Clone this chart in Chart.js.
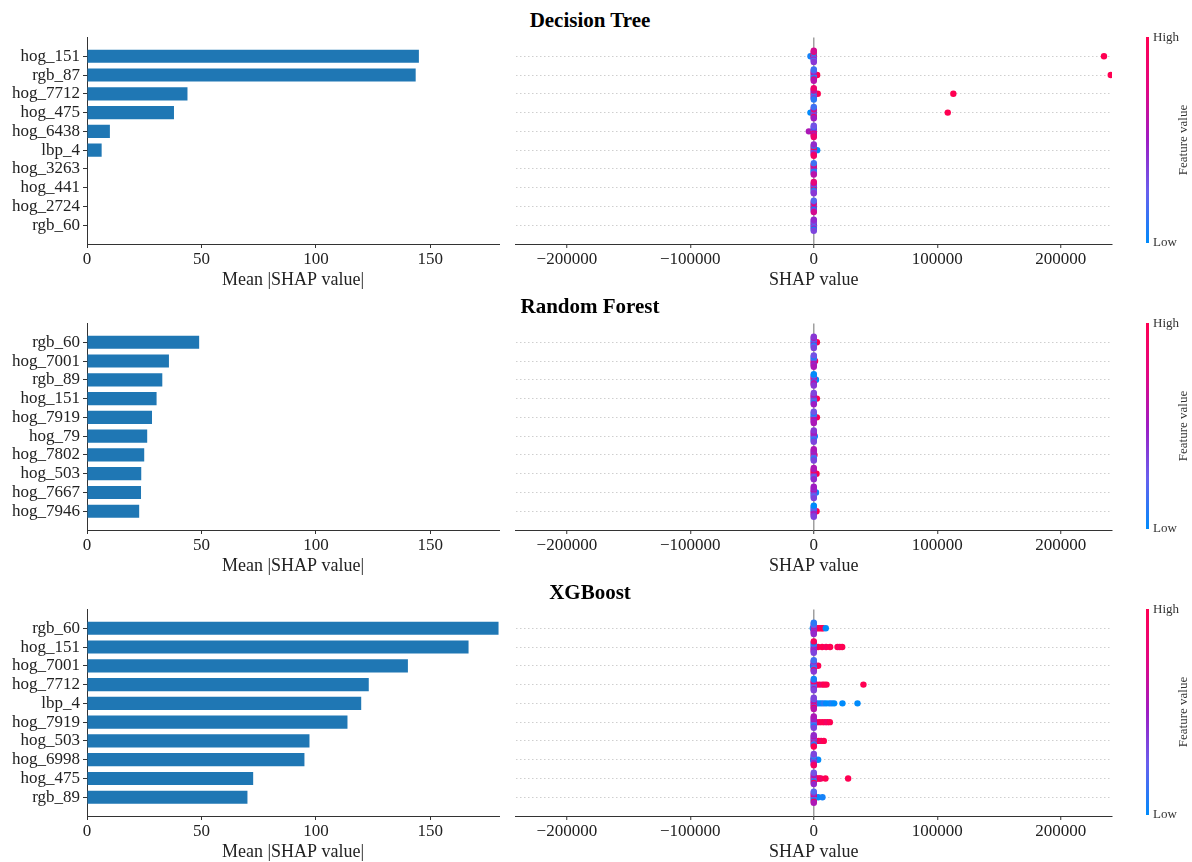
<!DOCTYPE html>
<html>
<head>
<meta charset="utf-8">
<script src="https://cdn.jsdelivr.net/npm/chart.js@4.4.1/dist/chart.umd.min.js"></script>
<style>
  html, body { margin: 0; padding: 0; background: #ffffff; }
  #fig { position: relative; width: 1192px; height: 862px; overflow: hidden; background: #ffffff; }
  #fig canvas { position: absolute; }
  .panel-title {
    position: absolute; left: 0; width: 1180px; text-align: center;
    font: bold 21px "Liberation Serif", "Times New Roman", serif; color: #000;
    line-height: 24px; height: 24px;
  }
</style>
</head>
<body>
<div id="fig"></div>
<script>
// ---------------- Decision Tree ----------------
const dtFeatures = ['hog_151', 'rgb_87', 'hog_7712', 'hog_475', 'hog_6438', 'lbp_4', 'hog_3263', 'hog_441', 'hog_2724', 'rgb_60'];
const dtMeanAbs = [145.0, 143.6, 43.9, 38.0, 10.0, 6.4, 0, 0, 0, 0];
// per-feature samples: [SHAP value, normalised feature value]
const dtSamples = [
  [[-2700, 0.05], [235000, 1.0], [0, 0.95], [0, 1.0], [0, 0.6], [0, 0.9], [0, 0.3], [0, 0.1], [0, 0.5], [0, 0.85], [0, 0.2], [0, 0.7], [0, 0.4]],
  [[2700, 1.0], [240500, 1.0], [0, 0.4], [0, 0.6], [0, 0.1], [0, 0.9], [0, 0.2], [0, 0.5], [0, 0.05], [0, 0.3], [0, 0.8], [0, 0.15], [0, 0.6]],
  [[3200, 1.0], [113000, 1.0], [0, 0.9], [0, 0.5], [0, 0.95], [0, 0.3], [0, 0.1], [0, 0.7], [0, 0.2], [0, 0.6], [0, 0.4], [0, 0.85], [0, 0.1]],
  [[-2700, 0.0], [108500, 1.0], [0, 0.2], [0, 0.5], [0, 0.9], [0, 0.1], [0, 0.3], [0, 0.8], [0, 0.4], [0, 0.6], [0, 0.95], [0, 0.15], [0, 0.5]],
  [[-4000, 0.55], [0, 0.9], [0, 0.4], [0, 0.95], [0, 0.2], [0, 0.8], [0, 0.5], [0, 0.6], [0, 0.1], [0, 0.7], [0, 0.3], [0, 0.85]],
  [[2700, 0.0], [0, 0.5], [0, 0.2], [0, 0.6], [0, 0.85], [0, 0.3], [0, 0.95], [0, 0.4], [0, 0.1], [0, 0.7], [0, 0.45], [0, 0.9]],
  [[0, 0.9], [0, 0.1], [0, 0.0], [0, 0.95], [0, 0.2], [0, 0.5], [0, 0.05], [0, 0.85], [0, 0.3], [0, 0.15], [0, 0.6]],
  [[0, 0.1], [0, 0.9], [0, 0.0], [0, 0.5], [0, 0.95], [0, 0.2], [0, 0.05], [0, 0.6], [0, 0.3], [0, 0.8], [0, 0.4]],
  [[0, 0.9], [0, 0.3], [0, 0.95], [0, 0.1], [0, 0.5], [0, 0.85], [0, 0.0], [0, 0.6], [0, 0.4], [0, 0.2], [0, 0.7]],
  [[0, 0.1], [0, 0.5], [0, 0.0], [0, 0.6], [0, 0.3], [0, 0.2], [0, 0.55], [0, 0.4], [0, 0.05], [0, 0.45], [0, 0.35]]
];

// ---------------- Random Forest ----------------
const rfFeatures = ['rgb_60', 'hog_7001', 'rgb_89', 'hog_151', 'hog_7919', 'hog_79', 'hog_7802', 'hog_503', 'hog_7667', 'hog_7946'];
const rfMeanAbs = [49.0, 35.8, 32.9, 30.4, 28.4, 26.3, 25.0, 23.7, 23.6, 22.8];
const rfSamples = [
  [[2500, 1.0], [0, 0.5], [0, 0.0], [0, 0.6], [0, 0.1], [0, 0.45], [0, 0.3], [0, 0.05], [0, 0.55], [0, 0.2], [0, 0.4], [0, 0.35]],
  [[1000, 0.95], [0, 0.9], [0, 0.4], [0, 0.95], [0, 0.1], [0, 0.5], [0, 0.2], [0, 0.6], [0, 0.0], [0, 0.45], [0, 0.3], [0, 0.55]],
  [[1800, 0.0], [0, 0.5], [0, 0.9], [0, 0.3], [0, 0.95], [0, 0.1], [0, 0.45], [0, 0.6], [0, 0.2], [0, 0.55], [0, 0.0], [0, 0.4]],
  [[2500, 1.0], [0, 0.4], [0, 0.5], [0, 0.2], [0, 0.6], [0, 0.1], [0, 0.45], [0, 0.3], [0, 0.55], [0, 0.05], [0, 0.35], [0, 0.5]],
  [[2500, 1.0], [1200, 0.9], [0, 0.95], [0, 0.0], [0, 0.9], [0, 0.1], [0, 0.5], [0, 0.2], [0, 0.6], [0, 0.05], [0, 0.45], [0, 0.3], [0, 0.55]],
  [[800, 0.0], [0, 0.0], [0, 0.5], [0, 0.1], [0, 0.6], [0, 0.3], [0, 0.45], [0, 0.2], [0, 0.55], [0, 0.05], [0, 0.4], [0, 0.35]],
  [[500, 1.0], [0, 1.0], [0, 0.4], [0, 0.9], [0, 0.5], [0, 0.3], [0, 0.6], [0, 0.2], [0, 0.45], [0, 0.1], [0, 0.55], [0, 0.35]],
  [[2200, 1.0], [0, 0.9], [0, 0.95], [0, 0.5], [0, 0.85], [0, 0.4], [0, 1.0], [0, 0.3], [0, 0.6], [0, 0.2], [0, 0.55], [0, 0.45]],
  [[1800, 0.05], [0, 0.1], [0, 0.5], [0, 0.0], [0, 0.6], [0, 0.4], [0, 0.55], [0, 0.3], [0, 0.45], [0, 0.2], [0, 0.5], [0, 0.35]],
  [[2200, 1.0], [0, 0.5], [0, 0.05], [0, 0.6], [0, 0.1], [0, 0.45], [0, 0.3], [0, 0.55], [0, 0.2], [0, 0.4], [0, 0.0], [0, 0.35]]
];

// ---------------- XGBoost ----------------
const xgbFeatures = ['rgb_60', 'hog_151', 'hog_7001', 'hog_7712', 'lbp_4', 'hog_7919', 'hog_503', 'hog_6998', 'hog_475', 'rgb_89'];
const xgbMeanAbs = [179.8, 166.7, 140.2, 123.1, 119.8, 113.8, 97.2, 95.0, 72.6, 70.1];
const xgbSamples = [
  [[-800, 0.0], [2000, 1.0], [3500, 0.95], [5000, 1.0], [6500, 0.9], [7600, 1.0], [9700, 0.0],
   [0, 0.05], [0, 0.1], [0, 0.0], [0, 0.5], [0, 0.6], [0, 0.3], [0, 0.4], [0, 0.2], [0, 0.55], [0, 0.1], [0, 0.45]],
  [[3500, 1.0], [6800, 1.0], [10000, 0.95], [13200, 1.0], [19200, 1.0], [21000, 0.9], [23000, 1.0],
   [0, 0.3], [0, 0.1], [0, 0.5], [0, 0.05], [0, 0.6], [0, 0.2], [0, 0.4], [0, 0.0], [0, 0.55], [0, 0.95], [0, 0.35]],
  [[-600, 0.0], [3500, 1.0],
   [0, 0.0], [0, 0.5], [0, 0.1], [0, 0.6], [0, 0.05], [0, 0.3], [0, 0.2], [0, 0.45], [0, 0.9], [0, 0.15], [0, 0.4]],
  [[2200, 1.0], [4500, 1.0], [6800, 0.9], [8500, 1.0], [10300, 1.0], [40200, 1.0],
   [0, 0.1], [0, 0.5], [0, 0.0], [0, 0.6], [0, 0.3], [0, 0.95], [0, 0.2], [0, 0.4], [0, 0.55], [0, 0.05], [0, 0.35]],
  [[2000, 0.0], [4000, 0.05], [6000, 0.0], [8000, 0.1], [10000, 0.0], [12500, 0.0], [14500, 0.05], [16500, 0.0], [23200, 0.0], [35400, 0.0],
   [0, 0.5], [0, 0.6], [0, 0.3], [0, 0.45], [0, 0.9], [0, 0.55], [0, 0.4], [0, 0.2], [0, 0.95], [0, 0.35], [0, 0.6]],
  [[2200, 1.0], [4500, 0.95], [6800, 1.0], [9000, 1.0], [11000, 0.9], [13000, 1.0],
   [0, 0.05], [0, 0.4], [0, 0.1], [0, 0.5], [0, 0.3], [0, 0.6], [0, 0.2], [0, 0.45], [0, 0.0], [0, 0.55], [0, 0.35]],
  [[2000, 1.0], [4000, 1.0], [6000, 0.9], [8100, 1.0],
   [0, 0.95], [0, 0.4], [0, 0.1], [0, 0.5], [0, 0.9], [0, 0.3], [0, 0.2], [0, 0.6], [0, 0.05], [0, 0.45], [0, 1.0]],
  [[-500, 0.0], [3500, 0.0],
   [0, 0.1], [0, 0.5], [0, 0.0], [0, 0.6], [0, 0.3], [0, 0.05], [0, 0.45], [0, 0.2], [0, 0.55], [0, 0.35], [0, 0.9]],
  [[1500, 1.0], [3000, 0.95], [4500, 1.0], [5700, 0.9], [9450, 1.0], [27800, 1.0],
   [0, 0.9], [0, 0.5], [0, 0.95], [0, 0.4], [0, 0.2], [0, 0.6], [0, 0.1], [0, 0.55], [0, 1.0], [0, 0.3], [0, 0.45]],
  [[3500, 0.0], [7000, 0.05],
   [0, 0.05], [0, 0.5], [0, 0.1], [0, 0.9], [0, 0.3], [0, 0.6], [0, 0.0], [0, 0.4], [0, 0.95], [0, 0.2], [0, 0.55]]
];

// ---------------- shared axis settings ----------------
const meanAbsRange = [0, 180];
const meanAbsTickValues = [0, 50, 100, 150];
const shapRange = [-241500, 241500];
const shapTickValues = [-200000, -100000, 0, 100000, 200000];

const SERIF = '"Liberation Serif", "Times New Roman", serif';
const TEXT = '#222222';
const SPINE = '#333333';

// blue (low) -> purple -> red (high)
const cmapStops = [
  [0.00, [0, 139, 251]],
  [0.25, [105, 95, 238]],
  [0.50, [158, 28, 196]],
  [0.75, [226, 6, 130]],
  [1.00, [255, 0, 82]]
];
function cmap(t) {
  t = Math.max(0, Math.min(1, t));
  for (let i = 1; i < cmapStops.length; i++) {
    const [t1, c1] = cmapStops[i];
    const [t0, c0] = cmapStops[i - 1];
    if (t <= t1) {
      const f = (t - t0) / (t1 - t0);
      const c = c0.map((v, k) => Math.round(v + (c1[k] - v) * f));
      return `rgb(${c[0]},${c[1]},${c[2]})`;
    }
  }
  return 'rgb(255,0,82)';
}

// vertical spread of a beeswarm row: samples falling in the same x-bin are stacked
function swarmOffsets(samples) {
  const xs = samples.map(s => s[0]);
  const lo = Math.min(...xs), hi = Math.max(...xs);
  const nbins = 100;
  const quant = xs.map(x => Math.round(nbins * (x - lo) / (hi - lo + 1e-8)));
  const order = xs.map((_, i) => i).sort((a, b) => (quant[a] - quant[b]) || (a - b));
  const ys = new Array(xs.length).fill(0);
  let layer = 0, last = -1;
  for (const i of order) {
    if (quant[i] !== last) layer = 0;
    ys[i] = Math.ceil(layer / 2) * ((layer % 2) * 2 - 1);
    layer++;
    last = quant[i];
  }
  const m = Math.max(...ys.map(y => y + 1));
  return ys.map(y => y * 0.9 * (0.4 / m));
}

const panels = [
  { title: 'Decision Tree', names: dtFeatures, mean: dtMeanAbs, samples: dtSamples, axisTop: 37.5 },
  { title: 'Random Forest', names: rfFeatures, mean: rfMeanAbs, samples: rfSamples, axisTop: 323.5 },
  { title: 'XGBoost', names: xgbFeatures, mean: xgbMeanAbs, samples: xgbSamples, axisTop: 609.5 }
];

const PLOT_H = 206.5;   // height of each axes box
const XAXIS_H = 52;     // room for tick labels + axis title
const fig = document.getElementById('fig');

function makeCanvas(left, top, w, h) {
  const c = document.createElement('canvas');
  c.width = w; c.height = h;
  c.style.left = left + 'px'; c.style.top = top + 'px';
  c.style.width = w + 'px'; c.style.height = h + 'px';
  fig.appendChild(c);
  return c;
}

const rowTicks = n => Array.from({ length: n }, (_, i) => ({ value: i }));
const fmtShap = v => (v < 0 ? '\u2212' : '') + Math.abs(v);

const colorbarPlugin = {
  id: 'featureColorbar',
  afterDraw(chart) {
    const { ctx, chartArea } = chart;
    const top = chartArea.top - 0.5, bottom = chartArea.bottom - 1;
    const x = 641;
    const g = ctx.createLinearGradient(0, bottom, 0, top);
    cmapStops.forEach(([t]) => g.addColorStop(t, cmap(t)));
    ctx.save();
    ctx.fillStyle = g;
    ctx.fillRect(x, top, 3, bottom - top);
    ctx.fillStyle = '#333333';
    ctx.font = '13px ' + SERIF;
    ctx.textAlign = 'left';
    ctx.textBaseline = 'middle';
    ctx.fillText('High', x + 7, top + 1);
    ctx.fillText('Low', x + 7, bottom);
    ctx.translate(679, (top + bottom) / 2);
    ctx.rotate(-Math.PI / 2);
    ctx.textAlign = 'center';
    ctx.fillText('Feature value', 0, 0);
    ctx.restore();
  }
};

panels.forEach(p => {
  const canvasTop = p.axisTop - 9.5;
  const canvasH = Math.round(9.5 + PLOT_H + XAXIS_H);

  // panel title
  const t = document.createElement('div');
  t.className = 'panel-title';
  t.textContent = p.title;
  t.style.top = (p.axisTop - 29.5) + 'px';
  fig.appendChild(t);

  // ---- mean |SHAP| bar chart ----
  const barCanvas = makeCanvas(0, canvasTop, 505, canvasH);
  new Chart(barCanvas, {
    type: 'bar',
    data: {
      datasets: [{
        data: p.mean.map((v, i) => ({ x: v, y: i })),
        backgroundColor: '#1f77b4',
        borderWidth: 0,
        barPercentage: 0.7,
        categoryPercentage: 1.0
      }]
    },
    options: {
      indexAxis: 'y',
      responsive: false,
      animation: false,
      devicePixelRatio: 1,
      layout: { padding: { top: 9.5, right: 6, bottom: 0, left: 0 } },
      plugins: { legend: { display: false }, tooltip: { enabled: false } },
      scales: {
        x: {
          type: 'linear',
          min: meanAbsRange[0], max: meanAbsRange[1],
          afterBuildTicks(s) { s.ticks = meanAbsTickValues.map(v => ({ value: v })); },
          afterFit(s) { s.height = XAXIS_H; },
          ticks: {
            autoSkip: false,
            font: { family: SERIF, size: 17 }, color: TEXT, padding: 1, maxRotation: 0
          },
          grid: { drawOnChartArea: false, tickLength: 4, tickColor: SPINE, tickWidth: 1 },
          border: { display: true, color: SPINE, width: 1 },
          title: {
            display: true, text: 'Mean |SHAP value|',
            font: { family: SERIF, size: 18 }, color: TEXT, padding: { top: 0, bottom: 5 }
          }
        },
        y: {
          type: 'linear',
          offset: false,
          min: -1, max: p.names.length,
          reverse: true,
          afterBuildTicks(s) { s.ticks = rowTicks(p.names.length); },
          afterFit(s) { s.width = 87; s.paddingTop = 0; s.paddingBottom = 0; },
          ticks: {
            autoSkip: false,
            callback: v => p.names[v],
            font: { family: SERIF, size: 17 }, color: TEXT, padding: 3
          },
          grid: { offset: false, drawOnChartArea: false, tickLength: 4, tickColor: SPINE, tickWidth: 1 },
          border: { display: true, color: SPINE, width: 1 }
        }
      }
    }
  });

  // ---- SHAP beeswarm ----
  const pts = [];
  p.samples.forEach((row, i) => {
    const off = swarmOffsets(row);
    row.forEach(([shap, feat], k) => pts.push({ x: shap, y: i - off[k], c: cmap(feat) }));
  });

  const swarmCanvas = makeCanvas(505, canvasTop, 687, canvasH);
  new Chart(swarmCanvas, {
    type: 'scatter',
    data: {
      datasets: [{
        data: pts,
        pointRadius: 3.2,
        pointBorderWidth: 0,
        pointBackgroundColor: ctx => (ctx.raw ? ctx.raw.c : '#000'),
        pointHoverRadius: 3.2
      }]
    },
    options: {
      responsive: false,
      animation: false,
      devicePixelRatio: 1,
      layout: { padding: { top: 9.5, right: 80, bottom: 0, left: 10.6 } },
      plugins: { legend: { display: false }, tooltip: { enabled: false } },
      scales: {
        x: {
          type: 'linear',
          min: shapRange[0], max: shapRange[1],
          afterBuildTicks(s) { s.ticks = shapTickValues.map(v => ({ value: v })); },
          afterFit(s) { s.height = XAXIS_H; },
          ticks: {
            autoSkip: false,
            callback: fmtShap,
            font: { family: SERIF, size: 17 }, color: TEXT, padding: 1, maxRotation: 0
          },
          grid: {
            color: c => (c.tick && c.tick.value === 0 ? '#a0a0a0' : 'rgba(0,0,0,0)'),
            lineWidth: 1.5,
            tickLength: 4, tickColor: SPINE, tickWidth: 1
          },
          border: { display: true, color: SPINE, width: 1 },
          title: {
            display: true, text: 'SHAP value',
            font: { family: SERIF, size: 18 }, color: TEXT, padding: { top: 0, bottom: 5 }
          }
        },
        y: {
          type: 'linear',
          min: -1, max: p.names.length,
          reverse: true,
          afterBuildTicks(s) { s.ticks = rowTicks(p.names.length); },
          afterFit(s) { s.width = 0; s.paddingTop = 0; s.paddingBottom = 0; },
          ticks: { display: false },
          grid: { color: '#cfcfcf', lineWidth: 1, drawTicks: false },
          border: { display: false, dash: [1.5, 2.5] }
        }
      }
    },
    plugins: [colorbarPlugin]
  });
});
</script>
</body>
</html>
